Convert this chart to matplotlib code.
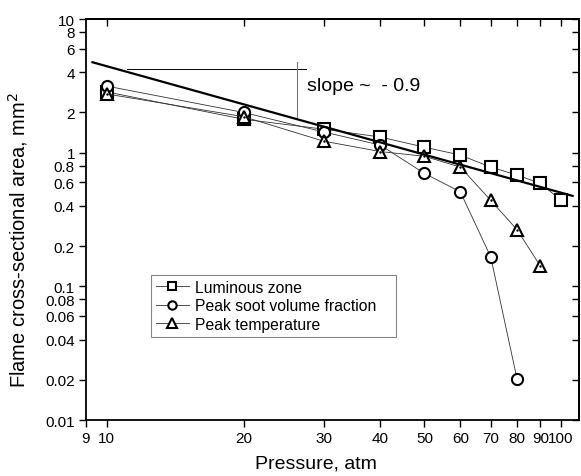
import matplotlib.pyplot as plt
import numpy as np
from matplotlib.ticker import FixedLocator, NullLocator, FixedFormatter

plt.rcParams['font.family'] = ['Liberation Sans', 'DejaVu Sans']

pressure = [10, 20, 30, 40, 50, 60, 70, 80, 90, 100]
luminous = [2.85, 1.78, 1.50, 1.31, 1.10, 0.96, 0.78, 0.68, 0.59, 0.44]

p_soot = [10, 20, 30, 40, 50, 60, 70, 80]
soot = [3.15, 2.0, 1.43, 1.14, 0.70, 0.51, 0.166, 0.0202]

p_temp = [10, 20, 30, 40, 50, 60, 70, 80, 90]
temp = [2.75, 1.86, 1.22, 1.02, 0.94, 0.78, 0.44, 0.265, 0.142]

# power-law guide, slope ~ -0.9
fit_p = [9.3, 106]
fit_a = [4.75, 0.475]

xticks = [9, 10, 20, 30, 40, 50, 60, 70, 80, 90, 100]
xticklabels = ['9', '10', '20', '30', '40', '50', '60', '70', '80', '90', '100']
yticks = [0.01, 0.02, 0.04, 0.06, 0.08, 0.1, 0.2, 0.4, 0.6, 0.8, 1, 2, 4, 6, 8, 10]
yticklabels = ['0.01', '0.02', '0.04', '0.06', '0.08', '0.1', '0.2', '0.4', '0.6',
               '0.8', '1', '2', '4', '6', '8', '10']

fig = plt.figure(figsize=(5.81, 4.77), dpi=100)
ax = fig.add_axes([0.148, 0.1174, 0.8486, 0.8406])
ax.set_xscale('log')
ax.set_yscale('log')
ax.set_xlim(9, 109.5)
ax.set_ylim(0.01, 10)

line_kw = dict(color='#333333', lw=0.6, mfc='white', mec='black', mew=1.5)
ax.plot(pressure, luminous, marker='s', ms=8, label='Luminous zone', **line_kw)
ax.plot(p_soot, soot, marker='o', ms=8, label='Peak soot volume fraction', **line_kw)
ax.plot(p_temp, temp, marker='^', ms=9, label='Peak temperature', **line_kw)
ax.plot(p_temp, temp, ls='none', marker='.', ms=1.5, color='black')
ax.plot(fit_p, fit_a, color='black', lw=1.6)

# slope guide
ax.plot([11.1, 27.5], [4.22, 4.22], color='black', lw=0.7)
ax.plot([26.2, 26.2], [4.77, 1.85], color='#777777', lw=0.8)
ax.text(27.6, 3.2, 'slope ~  - 0.9', fontsize=14, va='center', ha='left')

ax.xaxis.set_major_locator(FixedLocator(xticks))
ax.xaxis.set_major_formatter(FixedFormatter(xticklabels))
ax.xaxis.set_minor_locator(NullLocator())
ax.yaxis.set_major_locator(FixedLocator(yticks))
ax.yaxis.set_major_formatter(FixedFormatter(yticklabels))
ax.yaxis.set_minor_locator(NullLocator())
ax.tick_params(direction='out', length=5, width=1, labelsize=11, pad=3)

top = ax.secondary_xaxis('top')
top.set_xscale('log')
top.xaxis.set_major_locator(FixedLocator(xticks[1:]))
top.xaxis.set_minor_locator(NullLocator())
top.tick_params(direction='in', length=5, width=1, labeltop=False)
right = ax.secondary_yaxis('right')
right.yaxis.set_major_locator(FixedLocator(yticks))
right.yaxis.set_minor_locator(NullLocator())
right.tick_params(direction='in', length=5, width=1, labelright=False)

for s in ax.spines.values():
    s.set_linewidth(1.3)
top.spines['top'].set_linewidth(1.3)
right.spines['right'].set_linewidth(1.3)

ax.set_xlabel('Pressure, atm', fontsize=14)
ax.set_ylabel('Flame cross-sectional area, mm$^2$', fontsize=14.5)
ax.xaxis.set_label_coords(0.467, -0.087)
ax.yaxis.set_label_coords(-0.114, 0.451)

leg = ax.legend(loc='upper left', bbox_to_anchor=(0.132, 0.361, 0.497, 0.0),
                mode='expand', fontsize=11.3,
                frameon=True, fancybox=False, edgecolor='#666666',
                handlelength=2.1, handletextpad=0.4, labelspacing=0.22,
                borderpad=0.3, borderaxespad=0, markerscale=0.75)
leg.get_frame().set_linewidth(0.8)

fig.savefig('out.png', dpi=100)
